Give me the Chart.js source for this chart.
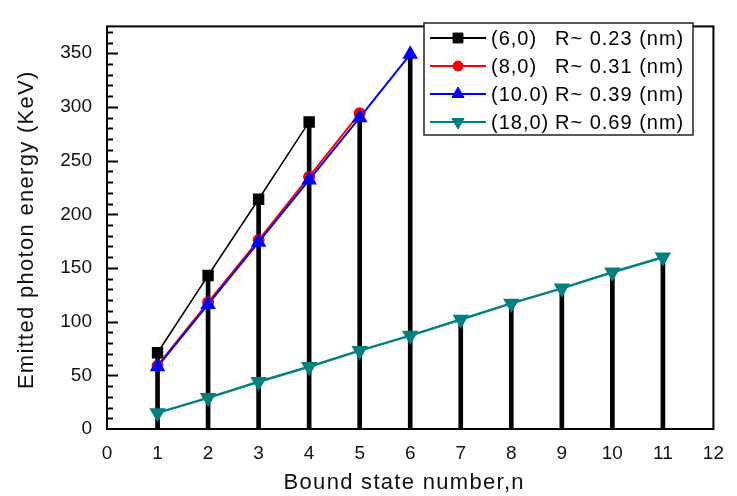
<!DOCTYPE html>
<html>
<head>
<meta charset="utf-8">
<script src="https://cdn.jsdelivr.net/npm/chart.js"></script>
<style>
    html, body { margin: 0; padding: 0; background: #fff; }
    #wrap { width: 737px; height: 496px; }
</style>
</head>
<body>
<div id="wrap"><canvas id="photonChart" width="737" height="496"></canvas></div>

<script>
    // Values: emitted photon energy (KeV) per bound state n
    const tubeNames = ['(6,0)', '(8,0)', '(10.0)', '(18,0)'];
    const tubeRadii = ['R~ 0.23 (nm)', 'R~ 0.31 (nm)', 'R~ 0.39 (nm)', 'R~ 0.69 (nm)'];
    const stateN = [1, 2, 3, 4, 5, 6, 7, 8, 9, 10, 11];
    const energy60 = [71, 143, 214, 286];
    const energy80 = [59, 118, 176, 235, 294];
    const energy100 = [58, 116, 174, 232, 290, 349];
    const energy180 = [15, 29, 44, 58, 73, 87, 102, 117, 131, 146, 160];
    const xTicks = [0, 1, 2, 3, 4, 5, 6, 7, 8, 9, 10, 11, 12];
    const yTicks = [0, 50, 100, 150, 200, 250, 300, 350];
    const xTitle = 'Bound state number,n';
    const yTitle = 'Emitted photon energy (KeV)';

    const FONT = "'Liberation Sans', Arial, sans-serif";

    function toPoints(values) {
        return values.map((v, i) => ({ x: stateN[i], y: v }));
    }

    // stem height = highest energy at each n
    const allSeries = [energy60, energy80, energy100, energy180];
    const stemTops = stateN.map((n, i) => Math.max(...allSeries.map(s => (s[i] === undefined ? 0 : s[i]))));

    // draws the frame and the inward tick marks
    const frameTicks = {
        id: 'frameTicks',
        afterDatasetsDraw(chart) {
            const { ctx, chartArea: a, scales: { x, y } } = chart;
            ctx.save();
            ctx.strokeStyle = '#000';
            ctx.lineWidth = 2;
            ctx.strokeRect(a.left, a.top, a.right - a.left, a.bottom - a.top);
            ctx.beginPath();
            for (let v = 10; v < y.max; v += 10) {
                const py = Math.round(y.getPixelForValue(v)) + 0.5;
                const len = v % 50 === 0 ? 11 : 6;
                ctx.moveTo(a.left, py);
                ctx.lineTo(a.left + len, py);
            }
            xTicks.forEach(t => {
                if (t === 0 || t === 12) return;
                const px = Math.round(x.getPixelForValue(t)) + 0.5;
                ctx.moveTo(px, a.bottom);
                ctx.lineTo(px, a.bottom - 8);
            });
            ctx.stroke();
            ctx.restore();
        }
    };

    // axis titles, drawn here so they can take the wider letter spacing of the original
    const axisTitles = {
        id: 'axisTitles',
        afterDraw(chart) {
            const { ctx, chartArea: a } = chart;
            ctx.save();
            ctx.fillStyle = '#111';
            ctx.font = '22px ' + FONT;
            ctx.letterSpacing = '1.3px';
            ctx.textAlign = 'center';
            ctx.textBaseline = 'middle';
            ctx.fillText(xTitle, (a.left + a.right) / 2 - 6, 483);
            ctx.translate(27, (a.top + a.bottom) / 2 + 2);
            ctx.rotate(-Math.PI / 2);
            ctx.fillText(yTitle, 0, 0);
            ctx.restore();
        }
    };

    function marker(ctx, style, r, rot, color, cx, cy) {
        const opts = { pointStyle: style, radius: r, rotation: rot, borderWidth: 1 };
        ctx.fillStyle = color;
        ctx.strokeStyle = color;
        ctx.lineWidth = 1;
        Chart.helpers.drawPoint(ctx, opts, cx, cy);
    }

    // legend box inside the plot
    const boxLegend = {
        id: 'boxLegend',
        afterDraw(chart) {
            const ctx = chart.ctx;
            const left = 424, top = 23, width = 269, height = 112;
            ctx.save();
            ctx.fillStyle = '#fff';
            ctx.fillRect(left, top, width, height);
            ctx.strokeStyle = '#222';
            ctx.lineWidth = 1.5;
            ctx.strokeRect(left, top, width, height);
            const lines = chart.data.datasets.filter(d => d.type === 'line');
            lines.forEach((ds, i) => {
                const cy = 38 + i * 28;
                ctx.strokeStyle = ds.borderColor;
                ctx.lineWidth = 2;
                ctx.beginPath();
                ctx.moveTo(430, cy);
                ctx.lineTo(486, cy);
                ctx.stroke();
                marker(ctx, ds.pointStyle, ds.pointRadius, ds.pointRotation || 0, ds.borderColor, 458, cy);
                ctx.fillStyle = '#000';
                ctx.font = '20px ' + FONT;
                ctx.textBaseline = 'middle';
                ctx.letterSpacing = '1px';
                ctx.fillText(tubeNames[i], 491, cy + 1);
                ctx.fillText(tubeRadii[i], 555, cy + 1);
            });
            ctx.restore();
        }
    };

    const photonChart = new Chart(document.getElementById('photonChart'), {
        type: 'line',
        data: {
            datasets: [
                { type: 'line', label: tubeNames[0] + ' ' + tubeRadii[0], data: toPoints(energy60),
                  borderColor: '#000000', backgroundColor: '#000000', borderWidth: 1.5,
                  pointStyle: 'rect', pointRadius: 7, order: 4 },
                { type: 'line', label: tubeNames[1] + ' ' + tubeRadii[1], data: toPoints(energy80),
                  borderColor: '#ff0000', backgroundColor: '#ff0000', borderWidth: 2,
                  pointStyle: 'circle', pointRadius: 5, order: 3 },
                { type: 'line', label: tubeNames[2] + ' ' + tubeRadii[2], data: toPoints(energy100),
                  borderColor: '#0000ff', backgroundColor: '#0000ff', borderWidth: 2,
                  pointStyle: 'triangle', pointRadius: 7, order: 2 },
                { type: 'line', label: tubeNames[3] + ' ' + tubeRadii[3], data: toPoints(energy180),
                  borderColor: '#008080', backgroundColor: '#008080', borderWidth: 2.5,
                  pointStyle: 'triangle', pointRotation: 180, pointRadius: 7, order: 1 },
                { type: 'bar', label: 'stems', data: toPoints(stemTops),
                  backgroundColor: '#000000', barThickness: 4, grouped: false, order: 10 }
            ]
        },
        options: {
            responsive: false,
            animation: false,
            devicePixelRatio: 1,
            layout: { padding: { left: 0, top: 10, right: 19, bottom: 0 } },
            elements: { line: { tension: 0 }, point: { borderWidth: 1 } },
            plugins: { legend: { display: false }, tooltip: { enabled: false } },
            scales: {
                x: {
                    type: 'linear', min: 0, max: 12, offset: false,
                    afterFit: s => { s.height = 67; },
                    afterBuildTicks: s => { s.ticks = xTicks.map(v => ({ value: v })); },
                    grid: { display: false, drawTicks: false },
                    border: { display: false },
                    ticks: { padding: 13, color: '#111', font: { family: FONT, size: 19 }, maxRotation: 0, autoSkip: false },
                    title: { display: false }
                },
                y: {
                    min: 0, max: 375,
                    afterFit: s => { s.width = 107; },
                    afterBuildTicks: s => { s.ticks = yTicks.map(v => ({ value: v })); },
                    grid: { display: false, drawTicks: false },
                    border: { display: false },
                    ticks: { padding: 15, color: '#111', font: { family: FONT, size: 19 } },
                    title: { display: false }
                }
            }
        },
        plugins: [frameTicks, axisTitles, boxLegend]
    });
</script>
</body>
</html>
